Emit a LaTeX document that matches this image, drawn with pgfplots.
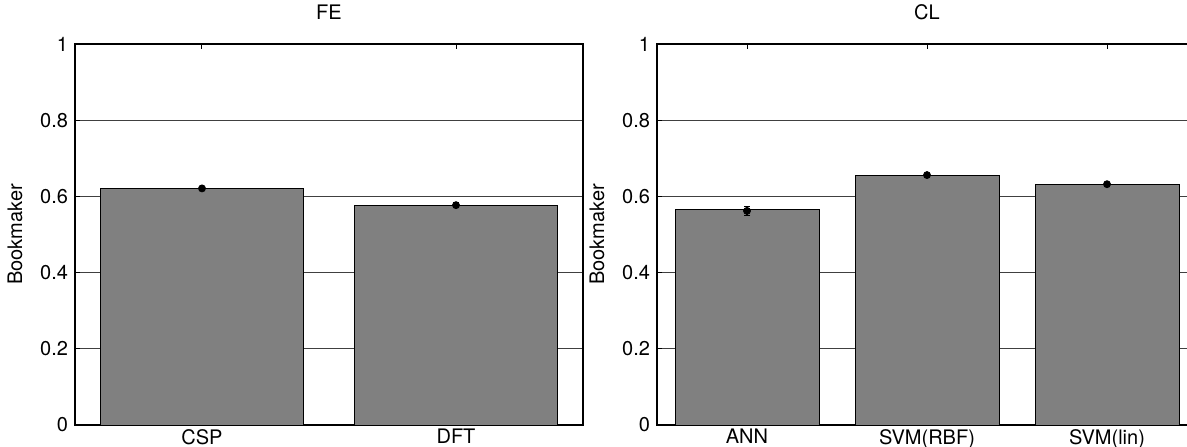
\documentclass[border=0pt]{standalone}
\usepackage{pgfplots}
\pgfplotsset{compat=1.18}
\usepackage{fontspec}
\setmainfont{TeX Gyre Heros}
\definecolor{bargray}{HTML}{808080}
\begin{document}
\fontsize{10}{12}\selectfont
\begin{tikzpicture}
\pgfplotsset{
  mystyle/.style={
    scale only axis, height=190.5pt,
    ymin=0, ymax=1, xmin=0.5,
    ytick={0,0.2,0.4,0.6,0.8,1},
    yticklabels={0,0.2,0.4,0.6,0.8,1},
    /pgf/number format/assume math mode=true,
    xtick pos=right, xticklabel pos=left,
    ytick pos=left,
    tick align=inside,
    major tick length=2.5pt,
    ymajorgrids,
    grid style={line width=0.5pt, black!75},
    axis line style={line width=0.8pt, black},
    tick style={line width=0.5pt, black},
    ylabel={Bookmaker},
    every axis title shift=0pt,
    title style={at={(axis description cs:0.5,1.084)}, anchor=center},
    xticklabel style={yshift=1.5pt},
    tick label style={font=\fontsize{10}{12}\selectfont},
    label style={font=\fontsize{10}{12}\selectfont},
  }
}
\begin{axis}[mystyle, at={(0,0)}, anchor=south west, width=254pt,
  xmax=2.5, xtick={1,2}, xticklabels={CSP,DFT}, title={FE},
  ylabel style={at={(axis description cs:-0.118,0.5)}, anchor=center, rotate=0}]
\addplot[ybar, bar width=0.8, fill=bargray, draw=black, line width=0.5pt] coordinates {(1,0.621) (2,0.577)};
\addplot[only marks, mark=*, mark size=1.75pt, black,
  error bars/.cd, y dir=both, y explicit,
  error bar style={black, line width=0.6pt},
  error mark options={rotate=90, mark size=1.5pt, black, line width=0.6pt}]
  coordinates {(1,0.621) +- (0,0.002) (2,0.577) +- (0,0.007)};
\end{axis}
\begin{axis}[mystyle, at={(291pt,0)}, anchor=south west, width=270pt,
  xmax=3.5, xtick={1,2,3}, xticklabels={ANN,SVM(RBF),SVM(lin)}, title={CL},
  ylabel style={at={(axis description cs:-0.111,0.5)}, anchor=center, rotate=0}]
\addplot[ybar, bar width=0.8, fill=bargray, draw=black, line width=0.5pt] coordinates {(1,0.565) (2,0.656) (3,0.632)};
\addplot[only marks, mark=*, mark size=1.75pt, black,
  error bars/.cd, y dir=both, y explicit,
  error bar style={black, line width=0.6pt},
  error mark options={rotate=90, mark size=1.5pt, black, line width=0.6pt}]
  coordinates {(1,0.562) +- (0,0.012) (2,0.656) +- (0,0.002) (3,0.632) +- (0,0.003)};
\end{axis}
\pgfresetboundingbox
\path[use as bounding box] (-37.5pt,-10.5pt) rectangle (556pt,212.5pt);
\end{tikzpicture}
\end{document}
